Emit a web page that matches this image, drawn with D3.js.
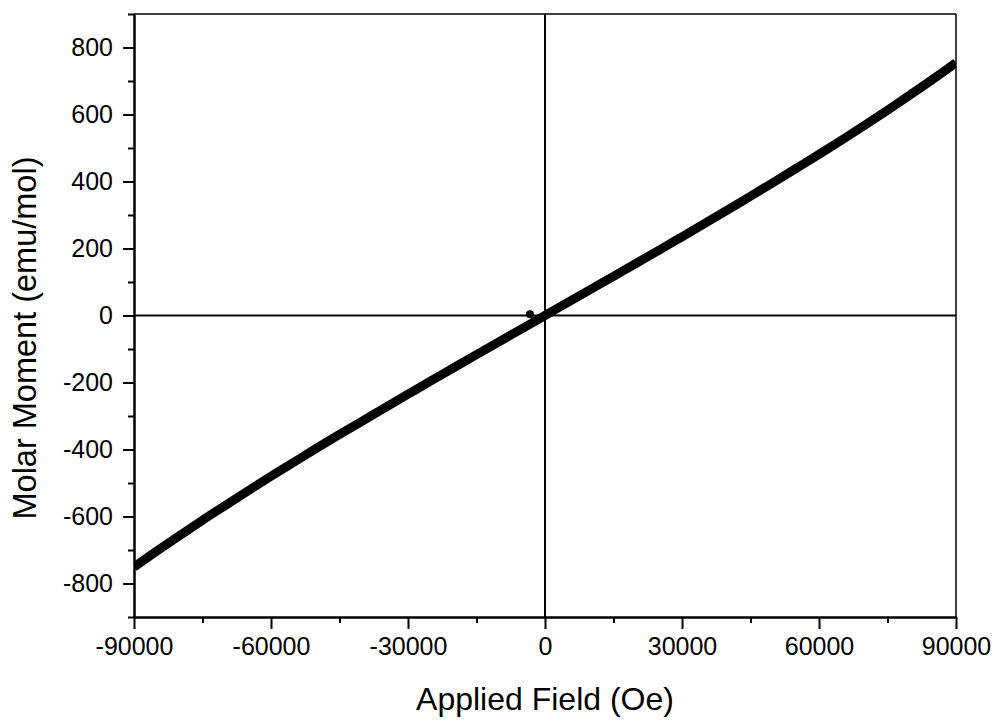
<!DOCTYPE html>
<head>
  <meta charset="UTF-8">
  <title>Molar Moment</title>
  <style>
    body { margin: 0; background: #fff; }
    text { font-family: "Liberation Sans", Arial, sans-serif; fill: #000; }
  </style>
</head>
<body>
    <script src="https://d3js.org/d3.v7.min.js" charset="utf-8"></script>
    <script>
        // campo aplicado (Oe)
        let campo = [-90000, -85000, -80000, -75000, -70000, -65000, -60000, -55000, -50000, -45000,
                     -40000, -35000, -30000, -25000, -20000, -15000, -10000, -5000, 0,
                     5000, 10000, 15000, 20000, 25000, 30000, 35000, 40000, 45000,
                     50000, 55000, 60000, 65000, 70000, 75000, 80000, 85000, 90000];
        // momento molar (emu/mol)
        let momento = [-751, -703, -657, -611, -567, -523, -480, -438, -396, -355,
                       -315, -275, -235, -195, -156, -117, -78, -39, 0,
                       39, 78, 117, 156, 195, 235, 275, 315, 356,
                       397, 439, 481, 524, 568, 613, 659, 706, 755];
        // punto suelto cerca del origen
        let puntoX = [-3300];
        let puntoY = [4];
        // etiquetas de los ejes
        let ticksX = [-90000, -60000, -30000, 0, 30000, 60000, 90000];
        let ticksXmenor = [-75000, -45000, -15000, 15000, 45000, 75000];
        let ticksY = [-800, -600, -400, -200, 0, 200, 400, 600, 800];
        let ticksYmenor = [-900, -700, -500, -300, -100, 100, 300, 500, 700, 900];

        let width = 998;
        let height = 721;
        let margin = { top: 14, right: 42, bottom: 104, left: 134 };

        let svg = d3.select('body')
          .append('svg')
          .attr('width', width)
          .attr('height', height);

        let x = d3.scaleLinear()
          .domain([-90000, 90000])
          .range([margin.left, width - margin.right]);
        let y = d3.scaleLinear()
          .domain([-900, 900])
          .range([height - margin.bottom, margin.top]);

        // lineas del cero
        svg.append('line')
          .attr('x1', x(-90000)).attr('x2', x(90000))
          .attr('y1', y(0)).attr('y2', y(0))
          .attr('stroke', '#000').attr('stroke-width', 2);
        svg.append('line')
          .attr('x1', x(0)).attr('x2', x(0))
          .attr('y1', y(-900)).attr('y2', y(900))
          .attr('stroke', '#000').attr('stroke-width', 2);

        // la curva
        let datos = campo.map(function (d, i) { return [d, momento[i]]; });
        let linea = d3.line()
          .x(function (d) { return x(d[0]); })
          .y(function (d) { return y(d[1]); })
          .curve(d3.curveMonotoneX);
        svg.append('defs').append('clipPath').attr('id', 'recorte')
          .append('rect')
          .attr('x', margin.left).attr('y', margin.top)
          .attr('width', width - margin.left - margin.right)
          .attr('height', height - margin.top - margin.bottom);
        svg.append('path')
          .datum(datos)
          .attr('clip-path', 'url(#recorte)')
          .attr('fill', 'none')
          .attr('stroke', '#000')
          .attr('stroke-width', 9)
          .attr('d', linea);

        svg.selectAll('circle')
          .data(puntoX)
          .enter()
          .append('circle')
          .attr('cx', function (d) { return x(d); })
          .attr('cy', function (d, i) { return y(puntoY[i]); })
          .attr('r', 4)
          .attr('fill', '#000');

        // marco
        svg.append('line')
          .attr('x1', x(-90000)).attr('x2', x(90000))
          .attr('y1', y(900)).attr('y2', y(900))
          .attr('stroke', '#000').attr('stroke-width', 1.5);
        svg.append('line')
          .attr('x1', x(90000)).attr('x2', x(90000))
          .attr('y1', y(-900)).attr('y2', y(900))
          .attr('stroke', '#000').attr('stroke-width', 1.5);

        // eje x
        let ejeX = svg.append('g')
          .attr('transform', 'translate(0,' + y(-900) + ')')
          .call(d3.axisBottom(x).tickValues(ticksX).tickSize(12).tickSizeOuter(0).tickPadding(8)
            .tickFormat(function (d) { return String(d); }));
        ejeX.select('.domain').attr('stroke-width', 2.5);
        ejeX.selectAll('.tick line').attr('stroke-width', 2);
        ejeX.selectAll('text').attr('font-size', '25px');
        svg.append('g')
          .attr('transform', 'translate(0,' + y(-900) + ')')
          .call(d3.axisBottom(x).tickValues(ticksXmenor).tickSize(6).tickSizeOuter(0).tickFormat(''))
          .call(function (g) { g.select('.domain').remove(); })
          .selectAll('.tick line').attr('stroke-width', 2);

        // eje y
        let ejeY = svg.append('g')
          .attr('transform', 'translate(' + x(-90000) + ',0)')
          .call(d3.axisLeft(y).tickValues(ticksY).tickSize(11).tickSizeOuter(0).tickPadding(10)
            .tickFormat(function (d) { return String(d); }));
        ejeY.select('.domain').attr('stroke-width', 2.5);
        ejeY.selectAll('.tick line').attr('stroke-width', 2);
        ejeY.selectAll('text').attr('font-size', '25px');
        svg.append('g')
          .attr('transform', 'translate(' + x(-90000) + ',0)')
          .call(d3.axisLeft(y).tickValues(ticksYmenor).tickSize(6).tickSizeOuter(0).tickFormat(''))
          .call(function (g) { g.select('.domain').remove(); })
          .selectAll('.tick line').attr('stroke-width', 2);

        // titulos
        svg.append('text')
          .attr('x', x(0))
          .attr('y', 710)
          .attr('text-anchor', 'middle')
          .attr('font-size', '32px')
          .text('Applied Field (Oe)');
        svg.append('text')
          .attr('transform', 'translate(36,338) rotate(-90)')
          .attr('text-anchor', 'middle')
          .attr('font-size', '32.5px')
          .text('Molar Moment (emu/mol)');
    </script>
</body>
</html>
